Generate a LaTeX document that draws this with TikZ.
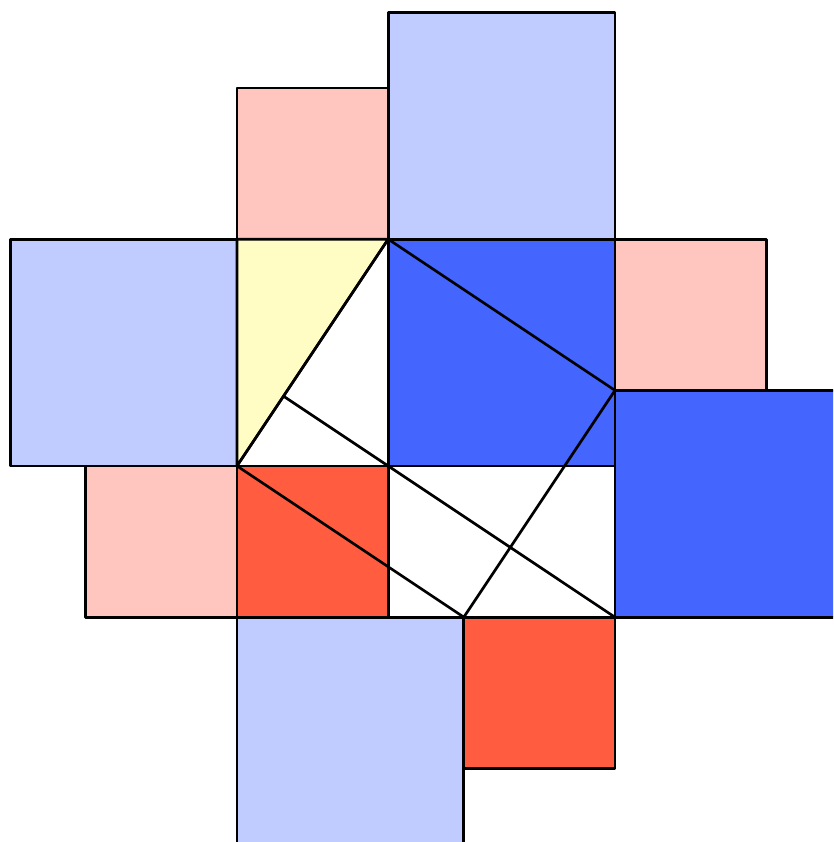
\documentclass[tikz,border=0pt]{standalone}
\usepackage{xcolor}
\usepackage{tikz}
\definecolor{sqPink}{HTML}{FFC6C0}
\definecolor{sqPale}{HTML}{C0CCFF}
\definecolor{sqBlue}{HTML}{4466FF}
\definecolor{sqRed}{HTML}{FF5C40}
\definecolor{sqYellow}{HTML}{FFFCC4}

\begin{document}
\begin{tikzpicture}[line join=round,
    sq/.style={draw=black, line width=1pt}]
  \useasboundingbox (-3.135,-4.974) rectangle (7.884,6.164);
  \clip (-3.135,-4.974) rectangle (7.884,6.164);
  % the right triangle and the square on its hypotenuse
  \coordinate (A) at (0,0);
  \coordinate (B) at (2,0);
  \coordinate (C) at (2,3);
  \coordinate (D) at (5,1);
  \coordinate (E) at (3,-2);
  \coordinate (G) at (5,-2);
  \coordinate (F) at (0.6154,0.9231);
  % outer squares
  \filldraw[sq, fill=sqPink] (0,3) rectangle (2,5);
  \filldraw[sq, fill=sqPale] (2,3) rectangle (5,6);
  \filldraw[sq, fill=sqPale] (-3,0) rectangle (0,3);
  \filldraw[sq, fill=sqPink] (5,1) rectangle (7,3);
  \filldraw[sq, fill=sqBlue] (5,-2) rectangle (8,1);
  \filldraw[sq, fill=sqPink] (-2,-2) rectangle (0,0);
  \filldraw[sq, fill=sqPale] (0,-5) rectangle (3,-2);
  \filldraw[sq, fill=sqRed] (3,-4) rectangle (5,-2);
  % inner cells
  \filldraw[sq, fill=white] (0,0) rectangle (2,3);
  \filldraw[sq, fill=sqYellow] (A) -- (0,3) -- (C) -- cycle;
  \filldraw[sq, fill=sqBlue] (2,0) rectangle (5,3);
  \filldraw[sq, fill=sqRed] (0,-2) rectangle (2,0);
  \filldraw[sq, fill=white] (2,-2) rectangle (5,0);
  % dissection lines
  \draw[sq] (A) -- (C) -- (D) -- (E) -- cycle;
  \draw[sq] (F) -- (G);
\end{tikzpicture}
\end{document}
